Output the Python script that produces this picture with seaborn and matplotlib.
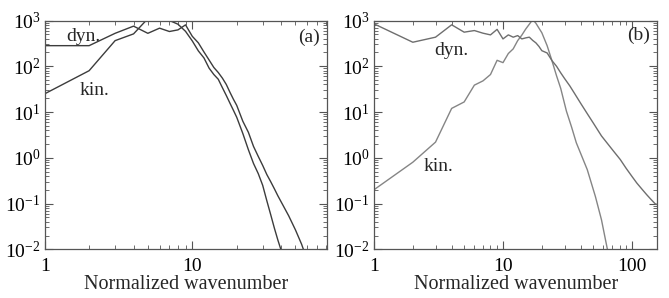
"""
Energy spectra, panels (a) and (b): kinetic vs dynamo energy against
normalized wavenumber on log-log axes.
"""

import matplotlib
matplotlib.use('Agg')
import matplotlib.pyplot as plt
import matplotlib.ticker as mticker
import seaborn as sns
import pandas as pd

# panel (a)
a_kin_k = [1, 2, 3, 4, 5, 6, 7, 8, 9, 10, 11, 12, 13, 14, 15, 16, 17, 18, 19, 20,
           22, 24, 26, 28, 30, 32, 34, 36, 38, 40, 42]
a_kin = [25, 80, 363, 510, 1100, 1200, 1000, 830, 580, 358, 216, 152, 91, 66, 52, 34,
         23, 15.6, 10.9, 7.7, 3.4, 1.5, 0.75, 0.45, 0.25, 0.115, 0.057, 0.029, 0.016,
         0.0095, 0.006]
a_dyn_k = [1, 2, 3, 4, 5, 6, 7, 8, 9, 10, 11, 12, 13, 14, 15, 16, 17, 18, 19, 20,
           22, 24, 26, 28, 30, 32, 34, 36, 38, 40, 45, 50, 55, 58]
a_dyn = [282, 282, 525, 753, 525, 680, 575, 624, 803, 452, 324, 205, 137, 94, 73, 55,
         40, 27, 19, 14, 6.3, 3.6, 1.77, 1.07, 0.68, 0.43, 0.30, 0.21, 0.148, 0.109,
         0.054, 0.0266, 0.013, 0.008]

# panel (b)
b_kin_k = [1, 2, 3, 4, 5, 6, 7, 8, 9, 10, 11, 12, 13, 14, 15, 16, 17, 18, 19, 20,
           22, 24, 26, 28, 31, 34, 37, 45, 52, 58, 64, 67]
b_kin = [0.2, 0.8, 2.2, 12, 16.6, 38.7, 48, 66, 135, 120, 190, 240, 364, 480, 650, 830,
         1050, 870, 680, 540, 280, 130, 62, 33, 10.5, 4.7, 2.13, 0.55, 0.143, 0.044,
         0.011, 0.006]
b_dyn_k = [1, 2, 3, 4, 5, 6, 7, 8, 9, 10, 11, 12, 13, 14, 15, 16, 17, 18, 19, 20,
           22, 24, 26, 28, 30, 33, 36, 40, 45, 50, 58, 65, 72, 81, 90, 100, 109, 120,
           130, 140, 151, 157]
b_dyn = [846, 335, 432, 805, 556, 603, 528, 485, 640, 396, 485, 432, 468, 396, 417, 432,
         367, 324, 271, 219, 195, 132, 100, 72, 54, 37, 25, 15.5, 9.2, 5.8, 3.0, 2.0,
         1.39, 0.92, 0.59, 0.39, 0.28, 0.203, 0.156, 0.124, 0.099, 0.095]

sns.set_theme(style='ticks')
plt.rcParams['font.family'] = ['Liberation Serif', 'DejaVu Serif']
plt.rcParams['mathtext.fontset'] = 'custom'
plt.rcParams['mathtext.rm'] = 'Liberation Serif'
plt.rcParams['mathtext.it'] = 'Liberation Serif'
plt.rcParams['mathtext.default'] = 'regular'

fig = plt.figure(figsize=(6.69, 2.98), dpi=100)
ax_a = fig.add_axes([0.0668, 0.1634, 0.4215, 0.7678])
ax_b = fig.add_axes([0.559, 0.1634, 0.4235, 0.7678])

panels = [
    (ax_a, a_kin_k, a_kin, a_dyn_k, a_dyn, '#3c3c3c', '#3c3c3c', 81.4, '(a)',
     (0.136, 0.932), (0.175, 0.696), (0.937, 0.925)),
    (ax_b, b_kin_k, b_kin, b_dyn_k, b_dyn, '#858585', '#6e6e6e', 157, '(b)',
     (0.272, 0.871), (0.226, 0.364), (0.935, 0.935)),
]

for (ax, kk, ek, dk, ed, c_kin, c_dyn, xmax, tag,
     dyn_pos, kin_pos, tag_pos) in panels:
    kin_df = pd.DataFrame({'k': kk, 'E': ek})
    dyn_df = pd.DataFrame({'k': dk, 'E': ed})
    sns.lineplot(data=kin_df, x='k', y='E', ax=ax, color=c_kin, lw=1.0,
                 estimator=None, sort=False)
    sns.lineplot(data=dyn_df, x='k', y='E', ax=ax, color=c_dyn, lw=1.0,
                 estimator=None, sort=False)
    ax.set_xscale('log')
    ax.set_yscale('log')
    ax.set_xlim(1, xmax)
    ax.set_ylim(1e-2, 1e3)
    ax.xaxis.set_major_formatter(mticker.FuncFormatter(lambda v, p: f'{v:g}'))
    ax.set_xlabel('Normalized wavenumber', fontsize=14.5, labelpad=0)
    ax.set_ylabel('')
    ax.tick_params(which='both', direction='in', top=True, right=True,
                   colors='#555555', labelcolor='black', labelsize=14)
    ax.tick_params(which='major', length=6, width=0.8)
    ax.tick_params(which='minor', length=3, width=0.6)
    ax.tick_params(axis='x', which='major', pad=6)
    ax.tick_params(axis='y', which='major', pad=3)
    for s in ax.spines.values():
        s.set_color('#555555')
        s.set_linewidth(0.9)
    ax.text(*dyn_pos, 'dyn.', transform=ax.transAxes, fontsize=14,
            ha='center', va='center')
    ax.text(*kin_pos, 'kin.', transform=ax.transAxes, fontsize=14,
            ha='center', va='center')
    ax.text(*tag_pos, tag, transform=ax.transAxes, fontsize=14,
            ha='center', va='center')

fig.savefig('out.png', dpi=100)
